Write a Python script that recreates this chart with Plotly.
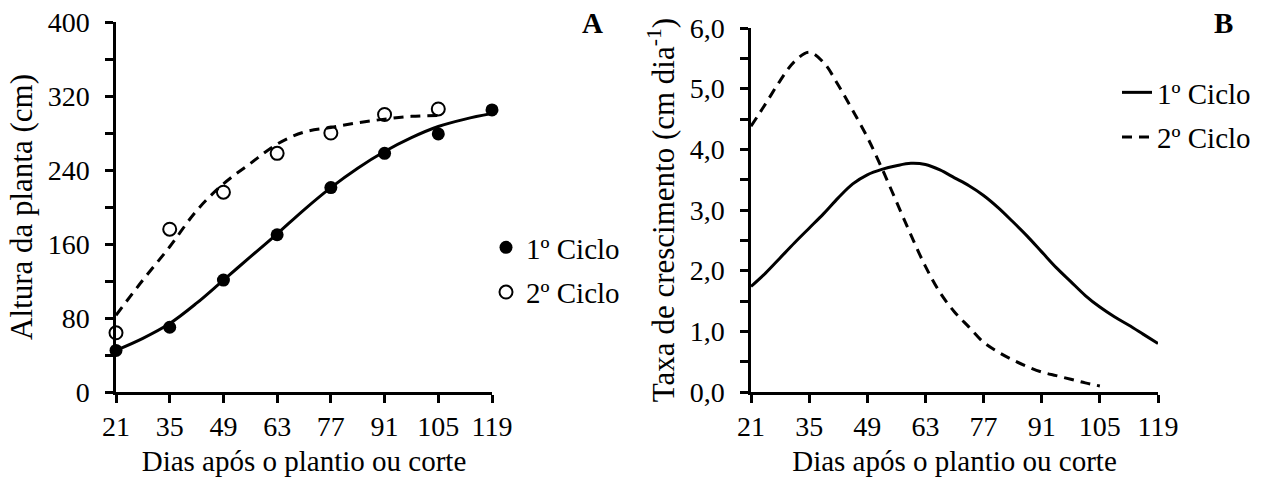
import plotly.graph_objects as go

# ---------------- data ----------------
dias = [21, 35, 49, 63, 77, 91, 105, 119]
dias_c2 = [21, 35, 49, 63, 77, 91, 105]
altura_c1 = [45, 70, 121, 170, 221, 258, 279, 305]
altura_c2 = [64, 176, 216, 258, 280, 300, 306]

# fitted curves, panel A
fitA_x = [21, 28, 35, 42, 49, 56, 63, 70, 77, 84, 91, 98, 105, 112, 119]
fitA_c1 = [45, 58, 74, 96, 121, 146, 171, 197, 221, 242, 260, 275, 287, 295, 301]
fitA_x2 = [21, 28, 35, 42, 49, 56, 63, 70, 77, 84, 91, 98, 105]
fitA_c2 = [83, 121, 157, 196, 225, 247, 268, 281, 286, 291, 295, 298, 299]

# growth rate curves, panel B
taxa_x = [21, 24.5, 28, 31.5, 35, 38.5, 42, 45.5, 49, 52.5, 56, 59.5, 63, 66.5,
          70, 73.5, 77, 80.5, 84, 87.5, 91, 94.5, 98, 101.5, 105, 108.5, 112, 115.5, 119]
taxa_c1 = [1.74, 1.96, 2.21, 2.46, 2.70, 2.94, 3.20, 3.43, 3.58, 3.67, 3.73, 3.77, 3.75, 3.66,
           3.53, 3.40, 3.24, 3.04, 2.81, 2.57, 2.31, 2.05, 1.82, 1.59, 1.40, 1.24, 1.10, 0.95, 0.80]
taxa_x2 = [21, 24.5, 28, 31.5, 35, 38.5, 42, 45.5, 49, 52.5, 56, 59.5, 63, 66.5,
           70, 73.5, 77, 80.5, 84, 87.5, 91, 94.5, 98, 101.5, 105]
taxa_c2 = [4.38, 4.75, 5.13, 5.45, 5.60, 5.43, 5.06, 4.64, 4.20, 3.69, 3.14, 2.59, 2.07, 1.64,
           1.32, 1.07, 0.82, 0.66, 0.53, 0.42, 0.33, 0.27, 0.21, 0.15, 0.10]

x_ticks = [21, 35, 49, 63, 77, 91, 105, 119]
yA_ticks = [0, 80, 160, 240, 320, 400]
yB_ticks = [0, 1, 2, 3, 4, 5, 6]
yB_text = ["0,0", "1,0", "2,0", "3,0", "4,0", "5,0", "6,0"]

FONT = "Liberation Serif, Times New Roman, serif"
W, H = 1263, 483
TICK_SIZE = 28
XTITLE_SIZE = 29
YTITLE_SIZE = 31
LEG_SIZE = 29

fig = go.Figure()

# Panel A fitted curves
fig.add_trace(go.Scatter(x=fitA_x, y=fitA_c1, mode="lines", line=dict(color="black", width=3, shape="spline"),
                         showlegend=False, xaxis="x", yaxis="y", cliponaxis=False))
fig.add_trace(go.Scatter(x=fitA_x2, y=fitA_c2, mode="lines",
                         line=dict(color="black", width=3, dash="10px,7px", shape="spline"),
                         showlegend=False, xaxis="x", yaxis="y", cliponaxis=False))
# Panel A observed points
fig.add_trace(go.Scatter(x=dias, y=altura_c1, mode="markers", name="1º Ciclo",
                         marker=dict(symbol="circle", size=13, color="black"),
                         xaxis="x", yaxis="y", legend="legend", legendgroup="a1", cliponaxis=False))
fig.add_trace(go.Scatter(x=dias_c2, y=altura_c2, mode="markers", name="2º Ciclo",
                         marker=dict(symbol="circle-open", size=13, color="black", line=dict(width=2, color="black")),
                         xaxis="x", yaxis="y", legend="legend", legendgroup="a2", cliponaxis=False))

# Panel B curves
fig.add_trace(go.Scatter(x=taxa_x, y=taxa_c1, mode="lines", name="1º Ciclo",
                         line=dict(color="black", width=3, shape="spline"),
                         xaxis="x2", yaxis="y2", legend="legend2", legendgroup="b1", cliponaxis=False))
fig.add_trace(go.Scatter(x=taxa_x2, y=taxa_c2, mode="lines", name="2º Ciclo",
                         line=dict(color="black", width=3, dash="10px,7px", shape="spline"),
                         xaxis="x2", yaxis="y2", legend="legend2", legendgroup="b2", cliponaxis=False))

def px_x(p):
    return p / W

def px_y(p):
    return 1 - p / H

axis_common = dict(showgrid=False, zeroline=False, showline=True, linecolor="black", linewidth=2.5,
                   ticks="outside", ticklen=8, tickwidth=2.5, tickcolor="black", automargin=False,
                   tickfont=dict(family=FONT, size=TICK_SIZE, color="black"))

fig.update_layout(
    width=W, height=H, margin=dict(l=0, r=0, t=0, b=0, autoexpand=False),
    paper_bgcolor="white", plot_bgcolor="white",
    font=dict(family=FONT, size=TICK_SIZE, color="black"),
    xaxis=dict(domain=[px_x(116), px_x(492)], range=[21, 119], tickvals=x_ticks,
               ticktext=[str(v) for v in x_ticks], anchor="y",
               title=dict(text="Dias após o plantio ou corte", font=dict(family=FONT, size=XTITLE_SIZE), standoff=10),
               **axis_common),
    yaxis=dict(domain=[px_y(392), px_y(22)], range=[0, 400], tickvals=yA_ticks,
               anchor="x", ticklabelstandoff=10,
               minor=dict(dtick=40, tick0=0, ticks="outside", ticklen=8, tickwidth=2.5, tickcolor="black"),
               title=dict(text="Altura da planta (cm)", font=dict(family=FONT, size=YTITLE_SIZE), standoff=6),
               **axis_common),
    xaxis2=dict(domain=[px_x(751), px_x(1158)], range=[21, 119], tickvals=x_ticks,
                ticktext=[str(v) for v in x_ticks], anchor="y2",
                title=dict(text="Dias após o plantio ou corte", font=dict(family=FONT, size=XTITLE_SIZE), standoff=10),
                **axis_common),
    yaxis2=dict(domain=[px_y(392), px_y(28)], range=[0, 6], tickvals=yB_ticks, ticktext=yB_text,
                anchor="x2", ticklabelstandoff=10,
                minor=dict(dtick=0.5, tick0=0, ticks="outside", ticklen=8, tickwidth=2.5, tickcolor="black"),
                title=dict(text="Taxa de crescimento (cm dia<sup>-1</sup>)", font=dict(family=FONT, size=YTITLE_SIZE), standoff=6),
                **axis_common),
    legend=dict(x=px_x(486), y=px_y(270), xanchor="left", yanchor="middle",
                bgcolor="rgba(0,0,0,0)", font=dict(family=FONT, size=LEG_SIZE), traceorder="grouped",
                tracegroupgap=4),
    legend2=dict(x=px_x(1117), y=px_y(115), xanchor="left", yanchor="middle",
                 bgcolor="rgba(0,0,0,0)", font=dict(family=FONT, size=LEG_SIZE), traceorder="grouped",
                 tracegroupgap=4),
    annotations=[
        dict(text="<b>A</b>", x=px_x(592), y=px_y(23), xref="paper", yref="paper",
             xanchor="center", yanchor="middle",
             showarrow=False, font=dict(family=FONT, size=29)),
        dict(text="<b>B</b>", x=px_x(1223), y=px_y(23), xref="paper", yref="paper",
             xanchor="center", yanchor="middle",
             showarrow=False, font=dict(family=FONT, size=29)),
    ],
)

fig.write_html("out.html")
